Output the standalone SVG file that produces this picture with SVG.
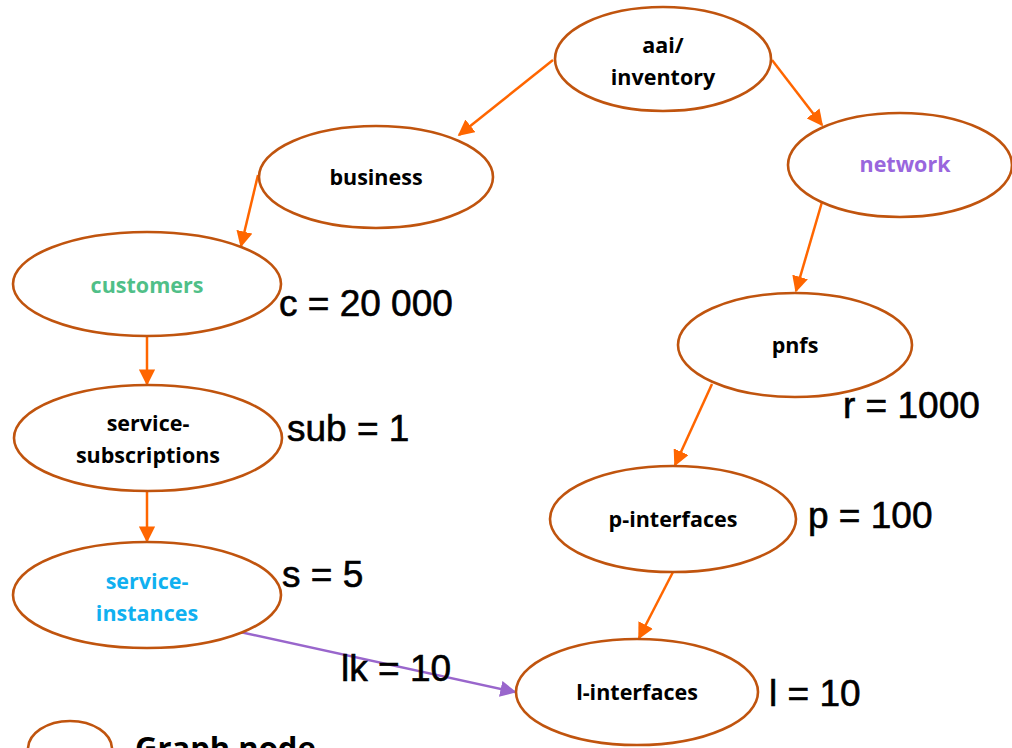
<svg xmlns="http://www.w3.org/2000/svg" width="1012" height="748" viewBox="0 0 1012 748">
<defs>
<marker id="ao" viewBox="0 0 10 10" refX="9" refY="5" markerWidth="6.5" markerHeight="6.5" markerUnits="strokeWidth" orient="auto">
<path d="M0,0 L10,5 L0,10 z" fill="#FF6600"/>
</marker>
<marker id="ap" viewBox="0 0 10 10" refX="9" refY="5" markerWidth="6.5" markerHeight="6.5" markerUnits="strokeWidth" orient="auto">
<path d="M0,0 L10,5 L0,10 z" fill="#9966CC"/>
</marker>
</defs>
<style>
.n{fill:#fff;stroke:#C0540E;stroke-width:2.6}
.t{font-family:"Open Sans","Noto Sans",sans-serif;font-weight:700;font-size:21.5px;text-anchor:middle;fill:#000}
.l{font-family:"Liberation Sans",Arial,sans-serif;font-size:37px;fill:#000;stroke:#000;stroke-width:0.6}
.e{fill:none;stroke:#FF6600;stroke-width:2.5;marker-end:url(#ao)}
.ep{fill:none;stroke:#9966CC;stroke-width:2.5;marker-end:url(#ap)}
</style>
<rect width="1012" height="748" fill="#fff"/>
<g id="connectors">
<line class="e" x1="553" y1="60" x2="459" y2="135"/>
<line class="e" x1="772" y1="60" x2="822" y2="125"/>
<line class="e" x1="258" y1="175" x2="241" y2="246"/>
<line class="e" x1="147" y1="336" x2="147" y2="384"/>
<line class="e" x1="147" y1="492" x2="147" y2="541"/>
<line class="e" x1="822" y1="202" x2="796" y2="291"/>
<line class="e" x1="712" y1="384" x2="675" y2="465"/>
<line class="e" x1="673" y1="572" x2="639" y2="638"/>
<line class="ep" x1="240" y1="632" x2="515" y2="692"/>
</g>
<g id="aai-inventory"><ellipse class="n" cx="663" cy="59" rx="108" ry="52"/><text class="t" x="663" y="53">aai/</text><text class="t" x="663" y="85">inventory</text></g>
<g id="business"><ellipse class="n" cx="376" cy="177" rx="117" ry="51"/><text class="t" x="376" y="185">business</text></g>
<g id="customers"><ellipse class="n" cx="147" cy="284" rx="134" ry="52"/><text class="t" x="147" y="293" style="fill:#50BF88">customers</text></g>
<g id="service-subscriptions"><ellipse class="n" cx="148" cy="438" rx="134" ry="53"/><text class="t" x="148" y="431">service-</text><text class="t" x="148" y="463">subscriptions</text></g>
<g id="service-instances"><ellipse class="n" cx="147" cy="595" rx="134" ry="53"/><text class="t" x="147" y="589" style="fill:#10B0F0">service-</text><text class="t" x="147" y="621" style="fill:#10B0F0">instances</text></g>
<g id="network"><ellipse class="n" cx="900" cy="165" rx="112" ry="52"/><text class="t" x="905" y="172" style="fill:#9966DD">network</text></g>
<g id="pnfs"><ellipse class="n" cx="795" cy="345" rx="117" ry="52"/><text class="t" x="795" y="353">pnfs</text></g>
<g id="p-interfaces"><ellipse class="n" cx="673" cy="519" rx="123" ry="53"/><text class="t" x="673" y="527">p-interfaces</text></g>
<g id="l-interfaces"><ellipse class="n" cx="637" cy="692" rx="121" ry="53"/><text class="t" x="637" y="700">l-interfaces</text></g>
<g id="labels">
<text class="l" x="279" y="316">c = 20 000</text>
<text class="l" x="287" y="441">sub = 1</text>
<text class="l" x="282" y="587">s = 5</text>
<text class="l" x="341" y="681">lk = 10</text>
<text class="l" x="843" y="418">r = 1000</text>
<text class="l" x="808" y="528">p = 100</text>
<text class="l" x="769" y="706">l = 10</text>
</g>
<g id="legend"><ellipse class="n" cx="70" cy="749" rx="42" ry="28"/><text x="135" y="759" style="font-family:'Open Sans','Noto Sans',sans-serif;font-weight:700;font-size:31px;fill:#000">Graph node</text></g>
</svg>
